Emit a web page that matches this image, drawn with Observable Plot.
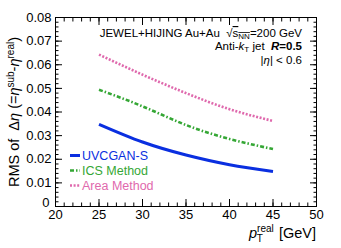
<!DOCTYPE html>
<html><head><meta charset="utf-8">
<script src="https://cdn.jsdelivr.net/npm/d3@7"></script>
<script src="https://cdn.jsdelivr.net/npm/@observablehq/plot@0.6"></script>
<style>
html,body{margin:0;padding:0;background:#fff;}
svg{font-family:"Liberation Sans",Arial,sans-serif;}
</style></head>
<body><div id="chart"></div>
<script>
const pt = [25, 30, 35, 40, 45];
const uvcgan = [0.0348, 0.0273, 0.0218, 0.0177, 0.0148];
const ics = [0.0494, 0.0424, 0.0345, 0.0286, 0.0243];
const area = [0.0643, 0.0558, 0.0480, 0.0412, 0.0362];
const seriesNames = ["UVCGAN-S", "ICS Method", "Area Method"];
const seriesColors = ["#0a2fe0", "#35a735", "#df69ad"];
const seriesDash = [null, "4,2,1.5,2", "2,1.6"];
const seriesWidth = [3, 2.6, 2.6];
const xTicks = [20, 25, 30, 35, 40, 45, 50];
const yTicks = [0, 0.01, 0.02, 0.03, 0.04, 0.05, 0.06, 0.07, 0.08];
const xMinor = d3.range(20, 50.01, 1);
const yMinor = d3.range(0, 0.0801, 0.002);

const series = [uvcgan, ics, area];
const rows = series.flatMap((vals, i) => pt.map((x, j) => ({x, y: vals[j], s: seriesNames[i]})));

const W = 341, H = 248;
const marks = [
  Plot.frame({stroke: "#000", strokeWidth: 1}),
  Plot.axisX({ticks: xTicks, anchor: "bottom", tickSize: -7, text: null}),
  Plot.axisX({ticks: xMinor, anchor: "bottom", tickSize: -3.5, text: null}),
  Plot.axisX({ticks: xTicks, anchor: "top", tickSize: -7, text: null, label: null}),
  Plot.axisX({ticks: xMinor, anchor: "top", tickSize: -3.5, text: null, label: null}),
  Plot.axisY({ticks: yTicks, anchor: "left", tickSize: -7, text: null}),
  Plot.axisY({ticks: yMinor, anchor: "left", tickSize: -3.5, text: null}),
  Plot.axisY({ticks: yTicks, anchor: "right", tickSize: -7, text: null, label: null}),
  Plot.axisY({ticks: yMinor, anchor: "right", tickSize: -3.5, text: null, label: null}),
  Plot.axisX({ticks: xTicks, anchor: "bottom", tickSize: 0, tickPadding: 3, fontSize: 13, label: null}),
  Plot.axisY({ticks: yTicks.filter(d => d > 0), anchor: "left", tickSize: 0, tickPadding: 4, fontSize: 13, label: null,
    tickFormat: d => d.toFixed(2)}),
  Plot.axisY({ticks: [0], anchor: "left", tickSize: 0, tickPadding: 6, fontSize: 13, label: null,
    tickFormat: d => "0", dy: -4}),
];
series.forEach((vals, i) => {
  marks.push(Plot.line(rows.filter(r => r.s === seriesNames[i]), {
    x: "x", y: "y", curve: "natural", stroke: seriesColors[i],
    strokeWidth: seriesWidth[i], strokeDasharray: seriesDash[i], strokeLinecap: "butt"
  }));
});

const chart = Plot.plot({
  width: W, height: H,
  marginLeft: 55, marginRight: 25, marginTop: 17, marginBottom: 42,
  style: {fontFamily: "Liberation Sans, Arial, sans-serif", color: "#000", background: "#fff"},
  x: {domain: [20, 50], label: null},
  y: {domain: [0, 0.08], label: null},
  marks
});
document.getElementById("chart").appendChild(chart);

const svg = d3.select(chart);
// y label
const yl = svg.append("text").attr("transform", "translate(19,112) rotate(-90)")
  .attr("text-anchor", "middle").attr("font-size", 14.5).attr("fill", "#000");
yl.append("tspan").text("RMS of  Δ");
yl.append("tspan").attr("font-style", "italic").text("η");
yl.append("tspan").text(" (=");
yl.append("tspan").attr("font-style", "italic").text("η");
yl.append("tspan").attr("font-size", 10).attr("dy", -5).text("sub");
yl.append("tspan").attr("dy", 5).text("-");
yl.append("tspan").attr("font-style", "italic").text("η");
yl.append("tspan").attr("font-size", 10).attr("dy", -5).text("real");
yl.append("tspan").attr("dy", 5).text(")");

// x label
const xl = svg.append("text").attr("x", 316).attr("y", 238).attr("text-anchor", "end")
  .attr("font-size", 14.5).attr("fill", "#000");
xl.append("tspan").attr("font-style", "italic").text("p");
xl.append("tspan").attr("font-size", 10).attr("dy", -6).text("real");
xl.append("tspan").attr("font-size", 10).attr("dx", -17).attr("dy", 10).text("T");
xl.append("tspan").attr("dx", 12).attr("dy", -4).text(" [GeV]");

// annotations
const a1 = svg.append("text").attr("x", 302).attr("y", 37).attr("text-anchor", "end").attr("font-size", 11.5);
a1.append("tspan").text("JEWEL+HIJING Au+Au  √");
a1.append("tspan").attr("text-decoration", "overline").text("s");
a1.append("tspan").attr("font-size", 8).attr("dy", 2).attr("text-decoration", "overline").text("NN");
a1.append("tspan").attr("dy", -2).text("=200 GeV");
const a2 = svg.append("text").attr("x", 302).attr("y", 50).attr("text-anchor", "end").attr("font-size", 11.5);
a2.append("tspan").text("Anti-");
a2.append("tspan").attr("font-style", "italic").text("k");
a2.append("tspan").attr("font-size", 8).attr("dy", 2).text("T");
a2.append("tspan").attr("dy", -2).text(" jet  ");
a2.append("tspan").attr("font-weight", "bold").attr("font-style", "italic").text("R");
a2.append("tspan").attr("font-weight", "bold").text("=0.5");
const a3 = svg.append("text").attr("x", 302).attr("y", 64).attr("text-anchor", "end").attr("font-size", 11.5);
a3.append("tspan").text("|");
a3.append("tspan").attr("font-style", "italic").text("η");
a3.append("tspan").text("| < 0.6");

// legend
seriesNames.forEach((name, i) => {
  const y = 160 + i * 15;
  svg.append("line").attr("x1", 70).attr("x2", 80).attr("y1", y - 4.5).attr("y2", y - 4.5)
    .attr("stroke", seriesColors[i]).attr("stroke-width", seriesWidth[i])
    .attr("stroke-dasharray", seriesDash[i]);
  svg.append("text").attr("x", 82).attr("y", y).attr("font-size", 12.5).attr("text-anchor", "start")
    .attr("fill", seriesColors[i]).text(name);
});
</script></body></html>
